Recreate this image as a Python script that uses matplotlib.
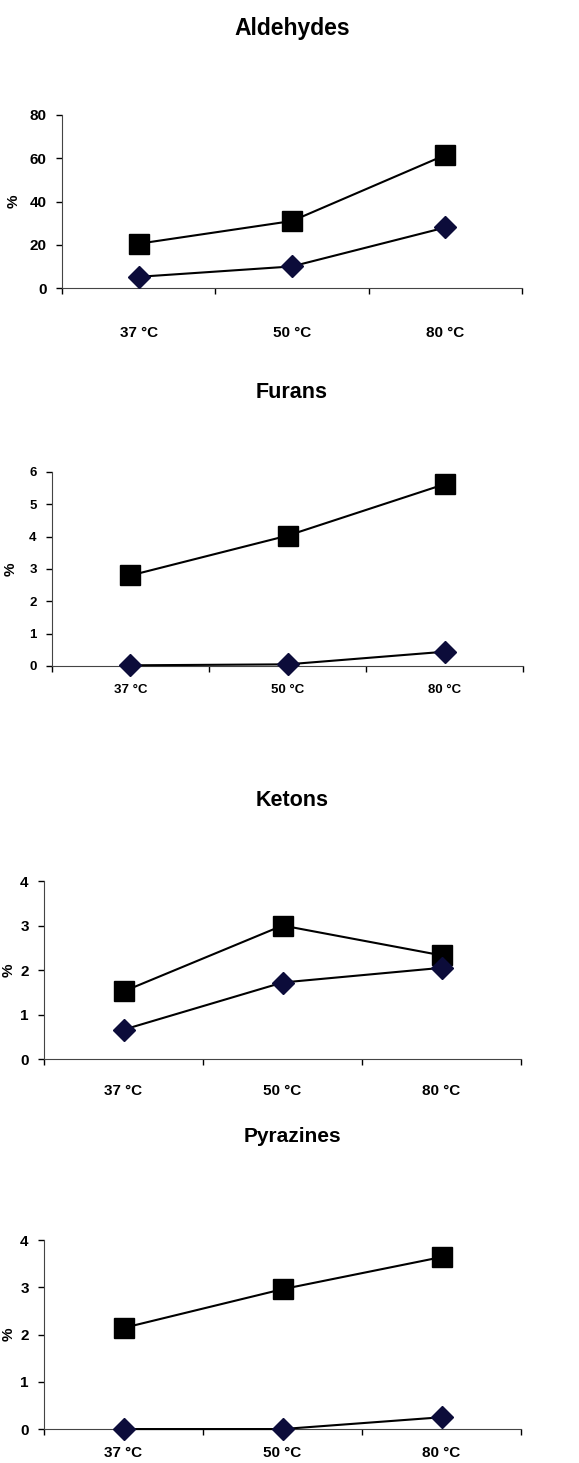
import matplotlib
matplotlib.use("Agg")
import matplotlib.pyplot as plt

plt.rcParams['font.family'] = ['Liberation Sans Narrow', 'Liberation Sans', 'DejaVu Sans']
plt.rcParams['font.weight'] = 'bold'

temps = ['37 °C', '50 °C', '80 °C']

titles = ['Aldehydes', 'Furans', 'Ketons', 'Pyrazines']
squares = [
    [20.5, 31, 61.5],
    [2.8, 4.03, 5.62],
    [1.52, 3.0, 2.33],
    [2.14, 2.96, 3.64],
]
diamonds = [
    [5.2, 10, 28],
    [0.02, 0.05, 0.44],
    [0.66, 1.72, 2.05],
    [0.0, 0.0, 0.25],
]
ymax = [80, 6, 4, 4]
ystep = [20, 1, 1, 1]

# axes boxes in figure fractions (left, bottom, width, height)
boxes = [
    [0.107, 0.8031, 0.7945, 0.1183],
    [0.0898, 0.5448, 0.8135, 0.1326],
    [0.076, 0.2761, 0.824, 0.1217],
    [0.076, 0.0232, 0.824, 0.1292],
]
title_y = [28, 393, 800, 1137]
title_fs = [16.5, 15.5, 15.5, 15]
xlab_pad = [27, 13, 18, 12]
ylab_x = [14, 11, 9, 9]
tick_fs = [11, 9.5, 11, 11]

W, H = 579, 1463
fig = plt.figure(figsize=(W / 100, H / 100), dpi=100)

for i in range(4):
    ax = fig.add_axes(boxes[i])
    x = list(range(len(temps)))
    ax.plot(x, squares[i], color='black', lw=1.5, marker='s', ms=14,
            mfc='black', mec='black', zorder=3)
    ax.plot(x, diamonds[i], color='black', lw=1.5, marker='D', ms=11,
            mfc='#0c0c3a', mec='#0c0c3a', zorder=3)

    ax.set_xlim(-0.5, 2.5)
    ax.set_ylim(0, ymax[i])
    ax.set_yticks(range(0, ymax[i] + 1, ystep[i]))
    ax.set_xticks([-0.5, 0.5, 1.5, 2.5])
    ax.set_xticklabels([])
    ax.set_xticks(x, minor=True)
    ax.set_xticklabels(temps, minor=True)
    ax.tick_params(axis='x', which='minor', length=0, pad=xlab_pad[i],
                   labelsize=tick_fs[i])
    ax.tick_params(axis='x', which='major', length=4, width=1, direction='out')
    ax.tick_params(axis='y', length=4, width=1, pad=7, labelsize=tick_fs[i])
    for lab in ax.get_yticklabels() + ax.get_xticklabels(minor=True):
        lab.set_fontweight('bold')

    ax.spines['top'].set_visible(False)
    ax.spines['right'].set_visible(False)
    ax.spines['left'].set_color('#444444')
    ax.spines['bottom'].set_color('#444444')
    for ln in ax.lines:
        ln.set_clip_on(False)

    cy = (boxes[i][1] + boxes[i][3] / 2)
    fig.text(ylab_x[i] / W, cy, '%', rotation=90, ha='center', va='center',
             fontsize=11, fontweight='bold')
    fig.text(292 / W, 1 - title_y[i] / H, titles[i], ha='center', va='center',
             fontsize=title_fs[i], fontweight='bold')

fig.savefig('out.png', dpi=100)
